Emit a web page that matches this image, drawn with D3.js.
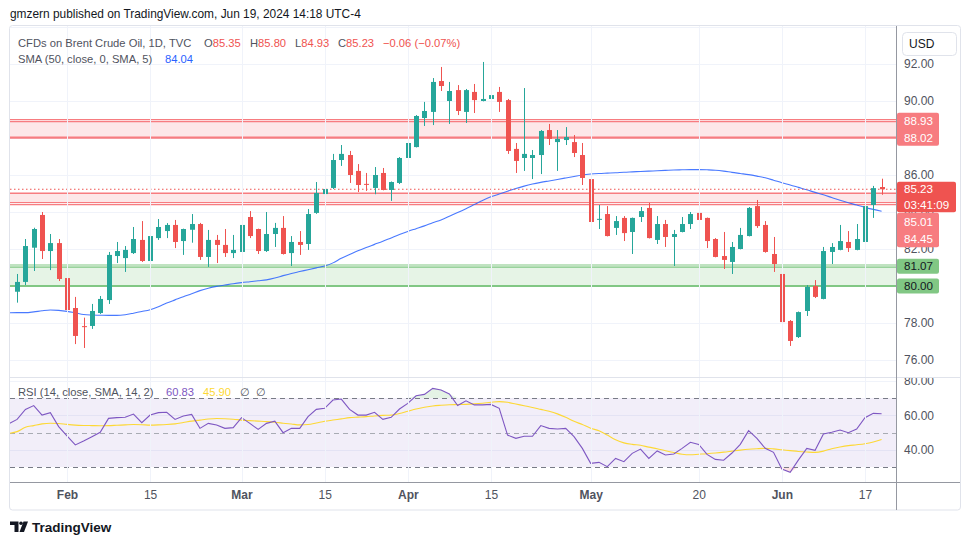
<!DOCTYPE html>
<html><head><meta charset="utf-8">
<script src="https://cdn.jsdelivr.net/npm/d3@7"></script>
<style>body{margin:0;background:#fff}svg{display:block}text{font-family:"Liberation Sans",Arial,sans-serif}</style>
</head><body><svg id="c" width="970" height="545"></svg>
<script>
// ---------- DATA ----------
const dates = [
"2024-01-24","2024-01-25","2024-01-26","2024-01-29","2024-01-30","2024-01-31",
"2024-02-01","2024-02-02","2024-02-05","2024-02-06","2024-02-07","2024-02-08","2024-02-09","2024-02-12","2024-02-13","2024-02-14","2024-02-15","2024-02-16","2024-02-19","2024-02-20","2024-02-21","2024-02-22","2024-02-23","2024-02-26","2024-02-27","2024-02-28","2024-02-29",
"2024-03-01","2024-03-04","2024-03-05","2024-03-06","2024-03-07","2024-03-08","2024-03-11","2024-03-12","2024-03-13","2024-03-14","2024-03-15","2024-03-18","2024-03-19","2024-03-20","2024-03-21","2024-03-22","2024-03-25","2024-03-26","2024-03-27","2024-03-28",
"2024-04-01","2024-04-02","2024-04-03","2024-04-04","2024-04-05","2024-04-08","2024-04-09","2024-04-10","2024-04-11","2024-04-12","2024-04-15","2024-04-16","2024-04-17","2024-04-18","2024-04-19","2024-04-22","2024-04-23","2024-04-24","2024-04-25","2024-04-26","2024-04-29","2024-04-30",
"2024-05-01","2024-05-02","2024-05-03","2024-05-06","2024-05-07","2024-05-08","2024-05-09","2024-05-10","2024-05-13","2024-05-14","2024-05-15","2024-05-16","2024-05-17","2024-05-20","2024-05-21","2024-05-22","2024-05-23","2024-05-24","2024-05-27","2024-05-28","2024-05-29","2024-05-30","2024-05-31",
"2024-06-03","2024-06-04","2024-06-05","2024-06-06","2024-06-07","2024-06-10","2024-06-11","2024-06-12","2024-06-13","2024-06-14","2024-06-17","2024-06-18","2024-06-19"];

const openP = [79.69,80.22,82.07,83.84,81.89,82.32,
80.43,78.81,77.83,77.84,78.54,79.24,81.62,81.51,81.78,82.49,81.35,82.59,82.97,83.30,82.43,83.04,83.35,81.57,82.49,82.22,81.78,
81.84,83.73,83.08,81.89,82.81,83.14,81.78,82.38,82.27,83.95,84.97,85.30,86.81,87.08,86.22,85.52,85.30,86.11,85.19,85.57,
86.92,87.51,89.08,89.41,91.08,90.00,90.59,89.41,90.49,90.00,90.11,90.49,90.05,87.41,86.92,86.92,87.08,88.43,87.78,87.89,87.78,87.08,
85.78,83.60,83.89,83.14,83.68,82.92,83.73,84.22,82.49,83.35,82.65,82.92,83.35,83.95,83.68,82.54,81.62,81.30,82.00,82.70,84.32,83.30,81.73,
80.65,78.11,77.24,78.65,80.00,79.30,81.84,81.95,82.38,81.95,82.38,84.38,85.35];
const highP = [80.65,82.54,83.15,84.00,82.81,82.54,
81.51,79.41,78.29,79.03,79.46,81.84,82.38,82.16,83.19,83.51,83.08,83.62,83.40,83.57,83.10,83.89,83.41,83.03,82.76,83.08,82.76,
84.27,84.05,83.10,84.00,83.41,83.78,82.70,82.97,84.16,85.62,85.51,87.14,87.62,87.30,86.59,86.11,86.43,86.38,85.65,86.97,
87.89,89.24,89.95,91.24,91.84,91.03,90.86,90.65,90.92,92.11,90.59,90.76,90.11,87.73,90.70,87.35,88.43,88.76,88.43,88.59,88.16,87.73,
85.84,84.38,84.32,83.78,83.78,83.70,84.27,84.49,83.78,83.57,83.03,83.73,84.00,84.38,83.70,82.59,82.92,82.38,83.14,84.27,84.65,83.51,82.65,
81.62,78.16,78.62,80.05,80.32,82.11,82.32,83.30,82.97,83.35,84.49,85.41,85.80];
const lowP = [79.10,80.05,80.81,81.46,80.86,80.27,
78.60,76.86,76.65,77.68,78.49,79.03,81.24,80.76,81.73,81.30,80.70,82.49,82.59,82.05,81.68,82.34,81.41,81.03,81.24,81.57,81.51,
81.80,82.59,81.73,81.84,82.11,81.70,81.08,81.68,81.95,83.90,84.59,85.24,86.49,85.57,85.08,85.14,84.96,85.17,84.60,85.51,
86.43,87.49,88.65,88.70,90.54,88.76,89.24,88.81,89.35,89.98,88.76,89.41,87.14,86.11,86.22,85.78,86.05,87.62,86.22,87.62,86.97,85.46,
83.30,83.08,82.68,82.76,82.43,81.73,83.46,82.57,82.27,82.11,81.08,82.90,83.08,83.14,82.05,81.55,80.92,80.65,81.98,82.68,83.14,81.80,80.76,
78.00,76.76,77.19,78.38,79.35,79.28,81.19,81.93,81.84,81.93,82.11,83.68,84.93];
const closeP = [80.22,82.16,83.08,81.89,82.32,80.38,
78.70,77.30,77.80,78.65,79.30,81.68,81.89,81.95,82.54,81.35,82.70,83.19,83.30,82.38,83.08,83.35,81.57,82.49,82.22,81.78,81.95,
83.30,82.70,81.89,82.81,83.14,81.73,82.38,82.22,83.89,85.03,85.24,86.81,87.14,86.00,85.46,85.48,86.00,85.19,85.62,86.92,
87.73,89.19,89.46,91.03,90.81,90.54,89.46,90.59,90.05,90.11,90.32,89.95,87.30,86.76,87.14,87.08,88.38,87.95,87.95,88.05,87.19,85.84,
83.46,83.63,82.70,83.51,82.86,83.68,84.05,82.59,83.35,82.65,82.81,83.35,83.89,83.57,82.43,81.57,81.41,82.11,82.76,84.22,83.24,81.84,81.19,
78.05,77.03,78.59,79.95,79.41,81.89,82.11,82.43,82.05,82.54,84.32,85.29,85.23];

// line series start one session earlier (2024-01-23), partly outside the visible pane
const sma50 = [78.55,
78.56,78.56,78.60,78.66,78.70,78.68,78.63,78.55,78.46,78.43,78.42,78.41,78.41,78.45,78.53,78.62,78.72,78.88,79.08,79.25,
79.42,79.58,79.75,79.88,79.98,80.05,80.12,80.18,80.23,80.28,80.33,80.43,80.56,80.68,80.78,80.88,80.98,81.08,81.25,81.50,
81.70,81.90,82.08,82.25,82.42,82.60,82.78,82.95,83.10,83.25,83.42,83.57,83.77,83.97,84.18,84.40,84.62,84.82,84.97,85.12,
85.27,85.40,85.51,85.60,85.68,85.76,85.84,85.92,86.00,86.05,86.08,86.10,86.12,86.15,86.17,86.19,86.21,86.23,86.25,86.27,
86.28,86.29,86.29,86.28,86.26,86.21,86.14,86.08,86.02,85.94,85.85,85.72,85.58,85.46,85.33,85.20,85.06,84.93,84.78,84.63,
84.50,84.38,84.25,84.14,84.04];
const rsi = [55.0,
57.6,63.4,65.6,60.1,61.5,53.4,48.0,42.8,45.1,47.6,50.1,58.2,58.6,58.8,60.7,55.7,60.1,61.5,61.7,57.6,
59.6,60.5,52.4,55.3,54.3,52.4,52.8,58.6,55.3,51.8,55.3,56.6,49.9,52.4,52.4,59.2,63.4,64.0,68.8,69.4,
63.4,60.1,60.1,61.7,57.6,58.8,63.6,66.9,71.3,72.1,75.6,74.6,72.3,65.6,68.4,66.0,66.0,66.3,64.0,48.5,
46.6,47.8,47.8,54.0,52.4,52.0,52.4,47.6,40.8,32.1,32.7,30.2,35.0,33.1,37.9,40.4,35.0,39.3,37.0,37.5,
40.8,44.3,43.1,37.3,34.4,33.9,38.1,43.1,51.1,46.6,40.8,38.5,28.8,26.9,34.1,40.8,39.7,49.1,50.1,51.4,
49.9,52.0,58.6,61.1,60.83];
const rsiSma = [49.5,
50.5,53.0,54.0,55.0,55.4,55.2,54.7,54.3,54.1,54.0,53.9,54.0,54.2,54.4,54.6,54.5,54.3,54.4,54.6,55.0,
55.8,56.6,57.2,57.8,58.1,58.0,57.7,57.2,56.9,56.6,56.3,55.9,55.4,54.9,54.4,54.6,55.5,56.5,57.2,57.9,
58.6,58.9,59.2,59.6,59.9,60.1,61.0,62.3,63.6,64.6,65.4,65.8,66.1,66.2,66.3,66.6,67.0,67.5,67.9,67.5,
66.5,65.5,64.5,63.4,62.3,60.8,58.8,56.5,54.6,52.5,51.0,48.5,45.8,44.0,43.1,42.6,41.5,40.6,39.4,38.4,
37.4,37.1,37.4,37.7,38.1,38.6,39.2,39.8,40.3,40.6,40.8,40.5,40.0,39.5,39.0,38.7,38.5,39.2,40.6,41.6,
42.4,42.9,43.5,44.5,45.9];

const zoneTop = [88.93, 85.01, 81.07];
const zoneBottom = [88.02, 84.45, 80.00];
const zoneKind = ["resistance", "resistance", "support"];

const priceTicks = [76, 78, 80, 82, 84, 86, 88, 90, 92, 94];
const rsiTicks = [40, 60, 80];
const rsiLevels = [70, 50, 30];
const xTickDates = ["2024-02-01","2024-02-15","2024-03-01","2024-03-15","2024-04-01","2024-04-15","2024-05-01","2024-05-20","2024-06-03","2024-06-17"];
const xTickLabels = ["Feb","15","Mar","15","Apr","15","May","20","Jun","17"];
const countdown = "03:41:09";

// ---------- LAYOUT ----------
const L = 10, R = 896, FR = 960;
const mainTop = 26, mainBot = 377, rsiTop = 377, rsiBot = 482, frameBot = 510;

const svg = d3.select("#c");
const n = dates.length;
const x = d3.scaleLinear().domain([0, n - 1]).range([17.1, 881.6]);
const y = d3.scaleLinear().domain([76, 92]).range([360, 64]);
const yr = d3.scaleLinear().domain([30, 70]).range([467, 398]);
const idxOf = d => dates.indexOf(d);

const UP = "#26a69a", DN = "#ef5350";
const gridC = "#f0f3fa", axisTxt = "#50535e";

// header
svg.append("text").attr("x", 10).attr("y", 18).attr("font-size", 11.9).attr("fill", "#131722")
  .text("gmzern published on TradingView.com, Jun 19, 2024 14:18 UTC-4");

// frame
svg.append("rect").attr("x", 9.5).attr("y", 25.5).attr("width", FR - 9).attr("height", frameBot - 25.5)
  .attr("fill", "#fff").attr("stroke", "#e0e3eb").attr("rx", 3);

const defs = svg.append("defs");
defs.append("clipPath").attr("id", "cm").append("rect").attr("x", L).attr("y", mainTop).attr("width", R - L).attr("height", mainBot - mainTop);
defs.append("clipPath").attr("id", "cr").append("rect").attr("x", L).attr("y", rsiTop).attr("width", R - L).attr("height", rsiBot - rsiTop);
defs.append("clipPath").attr("id", "cra").append("rect").attr("x", R).attr("y", rsiTop + 1).attr("width", FR - R).attr("height", rsiBot - rsiTop);

// grid
const gMain = svg.append("g").attr("clip-path", "url(#cm)");
gMain.selectAll("line.hg").data(priceTicks).join("line")
  .attr("x1", L).attr("x2", R).attr("y1", d => Math.round(y(d)) + 0.5).attr("y2", d => Math.round(y(d)) + 0.5)
  .attr("stroke", gridC);
const gR = svg.append("g").attr("clip-path", "url(#cr)");
gR.selectAll("line.hg").data(rsiTicks).join("line")
  .attr("x1", L).attr("x2", R).attr("y1", d => Math.round(yr(d)) + 0.5).attr("y2", d => Math.round(yr(d)) + 0.5)
  .attr("stroke", gridC);
svg.append("g").selectAll("line").data(xTickDates).join("line")
  .attr("x1", d => Math.round(x(idxOf(d))) + 0.5).attr("x2", d => Math.round(x(idxOf(d))) + 0.5)
  .attr("y1", mainTop).attr("y2", rsiBot).attr("stroke", gridC);

// zones
const zoneFill = k => k === "support" ? "rgba(76,175,80,0.14)" : "rgba(242,54,69,0.12)";
const zoneLine = k => k === "support" ? "#81c784" : "#f77c80";
zoneTop.forEach((t, i) => {
  const k = zoneKind[i];
  const y1 = y(t), y2 = y(zoneBottom[i]);
  gMain.append("rect").attr("x", L).attr("width", R - L).attr("y", y1).attr("height", y2 - y1).attr("fill", zoneFill(k));
  if (i === 1) {
    gMain.append("line").attr("x1", L).attr("x2", R).attr("y1", y1).attr("y2", y1).attr("stroke", zoneLine(k)).attr("stroke-width", 1.5);
    gMain.append("line").attr("x1", L).attr("x2", R).attr("y1", y2 - 1.2).attr("y2", y2 - 1.2).attr("stroke", zoneLine(k)).attr("stroke-width", 1.2);
    gMain.append("line").attr("x1", L).attr("x2", R).attr("y1", y2 + 0.9).attr("y2", y2 + 0.9).attr("stroke", zoneLine(k)).attr("stroke-width", 1.2);
  } else {
    gMain.append("line").attr("x1", L).attr("x2", R).attr("y1", y1 - 1.2).attr("y2", y1 - 1.2).attr("stroke", zoneLine(k)).attr("stroke-width", 1.2);
    gMain.append("line").attr("x1", L).attr("x2", R).attr("y1", y1 + 0.9).attr("y2", y1 + 0.9).attr("stroke", zoneLine(k)).attr("stroke-width", 1.2);
    gMain.append("line").attr("x1", L).attr("x2", R).attr("y1", y2).attr("y2", y2).attr("stroke", zoneLine(k)).attr("stroke-width", 2.2);
  }
});

// SMA 50
gMain.append("path").datum(sma50)
  .attr("d", d3.line().x((d, i) => x(i - 1)).y(d => y(d)).curve(d3.curveMonotoneX))
  .attr("fill", "none").attr("stroke", "#2962ff").attr("stroke-width", 1.1).attr("opacity", 0.85);

// current price dotted line
const last = n - 1;
gMain.append("line").attr("x1", L).attr("x2", R).attr("y1", y(closeP[last])).attr("y2", y(closeP[last]))
  .attr("stroke", DN).attr("stroke-width", 1.2).attr("stroke-dasharray", "1.5,2.5");

// candles
const cg = gMain.append("g");
d3.range(n).forEach(i => {
  const up = closeP[i] >= openP[i];
  const c = up ? UP : DN;
  const cx = Math.round(x(i));
  cg.append("line").attr("x1", cx + 0.5).attr("x2", cx + 0.5).attr("y1", y(highP[i])).attr("y2", y(lowP[i]))
    .attr("stroke", c).attr("stroke-width", 1);
  const top = y(Math.max(openP[i], closeP[i])), bot = y(Math.min(openP[i], closeP[i]));
  cg.append("rect").attr("x", cx - 2).attr("width", 5).attr("y", top).attr("height", Math.max(1, bot - top)).attr("fill", c);
});

// RSI pane
gR.append("rect").attr("x", L).attr("width", R - L).attr("y", yr(70)).attr("height", yr(30) - yr(70)).attr("fill", "rgba(126,87,194,0.1)");
gR.append("path").datum(rsi)
  .attr("d", d3.area().x((d, i) => x(i - 1)).y0(yr(70)).y1(d => yr(Math.max(d, 70))))
  .attr("fill", "rgba(76,175,80,0.15)");
gR.append("path").datum(rsi)
  .attr("d", d3.area().x((d, i) => x(i - 1)).y0(yr(30)).y1(d => yr(Math.min(d, 30))))
  .attr("fill", "rgba(242,54,69,0.15)");
gR.selectAll("line.lv").data(rsiLevels).join("line")
  .attr("x1", L).attr("x2", R).attr("y1", d => Math.round(yr(d)) + 0.5).attr("y2", d => Math.round(yr(d)) + 0.5)
  .attr("stroke", d => d === 50 ? "#a8abb3" : "#787b86").attr("stroke-dasharray", "5,4");
gR.append("path").datum(rsiSma)
  .attr("d", d3.line().x((d, i) => x(i - 1)).y(d => yr(d)).curve(d3.curveMonotoneX))
  .attr("fill", "none").attr("stroke", "#fdd835").attr("stroke-width", 1.1);
gR.append("path").datum(rsi)
  .attr("d", d3.line().x((d, i) => x(i - 1)).y(d => yr(d)))
  .attr("fill", "none").attr("stroke", "#7e57c2").attr("stroke-width", 1.1);

// separators and axis lines
svg.append("line").attr("x1", L).attr("x2", FR).attr("y1", rsiTop + 0.5).attr("y2", rsiTop + 0.5).attr("stroke", "#e0e3eb");
svg.append("line").attr("x1", L).attr("x2", FR).attr("y1", rsiBot + 0.5).attr("y2", rsiBot + 0.5).attr("stroke", "#9598a1");
svg.append("line").attr("x1", R + 0.5).attr("x2", R + 0.5).attr("y1", mainTop).attr("y2", frameBot).attr("stroke", "#9598a1");

// price axis
const pa = svg.append("g").attr("transform", `translate(${R},0)`)
  .call(d3.axisRight(y).tickValues(priceTicks.filter(v => v <= 92)).tickSize(0).tickPadding(8).tickFormat(d3.format(".2f")));
pa.select(".domain").remove();
pa.selectAll("text").attr("font-size", 12).attr("fill", axisTxt).attr("font-family", "Liberation Sans, Arial, sans-serif");

const ra = svg.append("g").attr("clip-path", "url(#cra)").append("g").attr("transform", `translate(${R},0)`)
  .call(d3.axisRight(yr).tickValues(rsiTicks).tickSize(0).tickPadding(8).tickFormat(d3.format(".2f")));
ra.select(".domain").remove();
ra.selectAll("text").attr("font-size", 12).attr("fill", axisTxt).attr("font-family", "Liberation Sans, Arial, sans-serif");

// time axis
const ta = svg.append("g").attr("transform", `translate(0,${rsiBot})`)
  .call(d3.axisBottom(x).tickValues(xTickDates.map(idxOf)).tickSize(0).tickPadding(8)
    .tickFormat((d, i) => xTickLabels[i]));
ta.select(".domain").remove();
ta.selectAll("text").attr("font-size", 12).attr("fill", "#50535e").attr("font-family", "Liberation Sans, Arial, sans-serif")
  .attr("font-weight", (d, i) => /^[A-Za-z]/.test(xTickLabels[i]) ? 700 : 400);

// price labels on axis
function labelBox(y0, y1, w, fill) {
  svg.append("rect").attr("x", R + 1).attr("y", y0).attr("width", w).attr("height", y1 - y0).attr("fill", fill).attr("rx", 2);
}
function labelText(yc, t, col) {
  svg.append("text").attr("x", 904).attr("y", yc).attr("dy", "0.35em").attr("font-size", 11.6).attr("fill", col).text(t);
}
// zone 0
labelBox(y(zoneTop[0]) - 8, y(zoneBottom[0]) + 8, 42, "#f77c80");
labelText(y(zoneTop[0]), zoneTop[0].toFixed(2), "#fff");
labelText(y(zoneBottom[0]), zoneBottom[0].toFixed(2), "#fff");
// current price
const cpY = y(closeP[last]);
labelBox(cpY - 7.5, cpY + 23, 59, "#ef5350");
labelText(cpY, closeP[last].toFixed(2), "#fff");
labelText(cpY + 15.5, countdown, "#fff");
// zone 1 pushed below the current price label
const z1a = Math.max(y(zoneTop[1]), cpY + 33), z1b = Math.max(y(zoneBottom[1]), z1a + 17);
labelBox(z1a - 9.5, z1b + 8, 42, "#f77c80");
labelText(z1a, zoneTop[1].toFixed(2), "#fff");
labelText(z1b, zoneBottom[1].toFixed(2), "#fff");
// support
[zoneTop[2], zoneBottom[2]].forEach(v => {
  labelBox(y(v) - 7.5, y(v) + 7.5, 42, "#81c784");
  labelText(y(v), v.toFixed(2), "#131722");
});

// USD button
svg.append("rect").attr("x", 902.5).attr("y", 32.5).attr("width", 54).attr("height", 23).attr("rx", 4)
  .attr("fill", "#fff").attr("stroke", "#e0e3eb");
svg.append("text").attr("x", 909).attr("y", 44).attr("dy", "0.35em").attr("font-size", 12).attr("fill", "#131722").text("USD");

// legends
const fmt = d3.format(".2f");
function legend(yy, parts) {
  const t = svg.append("text").attr("y", yy).attr("font-size", 11.2);
  parts.forEach(p => {
    const s = t.append("tspan").attr("fill", p[1]).text(p[0]);
    if (p[2] !== undefined) s.attr("x", p[2]);
  });
}
const chg = closeP[last] - closeP[last - 1];
const pct = chg / closeP[last - 1] * 100;
const gray = "#50535e";
legend(47, [["CFDs on Brent Crude Oil, 1D, TVC", gray, 18],
  ["O", gray, 204], [fmt(openP[last]), DN],
  ["H", gray, 250], [fmt(highP[last]), DN],
  ["L", gray, 295], [fmt(lowP[last]), DN],
  ["C", gray, 338], [fmt(closeP[last]), DN],
  [(chg < 0 ? "\u2212" : "+") + fmt(Math.abs(chg)) + " (" + (pct < 0 ? "\u2212" : "+") + fmt(Math.abs(pct)) + "%)", DN, 383]]);
legend(63, [["SMA (50, close, 0, SMA, 5)", gray, 18], [fmt(sma50[sma50.length - 1]), "#2962ff", 165]]);
legend(396, [["RSI (14, close, SMA, 14, 2)", gray, 18], [fmt(rsi[rsi.length - 1]), "#7e57c2", 166],
  [fmt(rsiSma[rsiSma.length - 1]), "#fdd835", 203], ["\u2205", gray, 240], ["\u2205", gray, 256]]);

// TradingView logo
const lg = svg.append("g").attr("fill", "#131722");
lg.append("path").attr("d", "M10,521.5 H18.5 V532 H14.5 V525 H10 Z");
lg.append("circle").attr("cx", 21).attr("cy", 523.3).attr("r", 1.8);
lg.append("path").attr("d", "M23.5,521.5 H28 L24,532 H19.5 Z");
svg.append("text").attr("x", 32).attr("y", 531.5).attr("font-size", 13.5).attr("font-weight", 600).attr("fill", "#131722").text("TradingView");
</script></body></html>
